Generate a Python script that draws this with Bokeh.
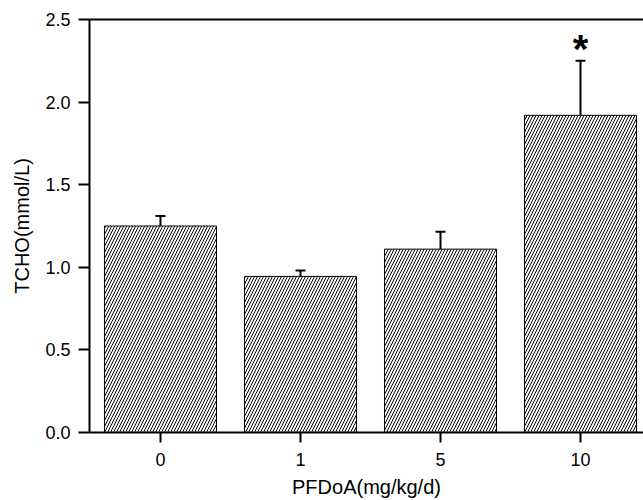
from bokeh.plotting import figure
from bokeh.models import (ColumnDataSource, Range1d, LinearAxis, FixedTicker,
                          Whisker, TeeHead)
from bokeh.core.properties import value
from bokeh.embed import file_html
from bokeh.resources import INLINE

# ---- data ----
doses = ["0", "1", "5", "10"]
means = [1.25, 0.945, 1.11, 1.92]
errors = [0.06, 0.035, 0.105, 0.33]
significant = ["", "", "", "*"]
y_ticks = [0.0, 0.5, 1.0, 1.5, 2.0, 2.5]

pos = list(range(len(doses)))
upper = [m + e for m, e in zip(means, errors)]
src = ColumnDataSource(dict(x=pos, top=means, upper=upper, sig=significant))

FONT = "Liberation Sans"

p = figure(width=643, height=500, output_backend="svg", toolbar_location=None,
           x_range=Range1d(-0.507, 3.45), y_range=Range1d(0, 2.5),
           min_border_left=89, min_border_right=0, min_border_top=19,
           min_border_bottom=68)
p.outline_line_color = None
p.grid.visible = False
p.background_fill_color = "white"

p.vbar(x="x", top="top", width=0.8, source=src, fill_color="white",
       line_color="black", line_width=1, hatch_pattern="/",
       hatch_color="black", hatch_weight=1, hatch_scale=6)

w = Whisker(base="x", lower="top", upper="upper", source=src,
            line_color="black", line_width=2, lower_head=None,
            upper_head=TeeHead(size=10, line_color="black", line_width=2))
p.add_layout(w)

p.text(x="x", y="upper", text="sig", source=src, text_align="center",
       text_baseline="alphabetic", y_offset=-12, text_font=value(FONT),
       text_font_size="40px", text_font_style="bold", text_color="black")

# axes styling
xa = p.xaxis[0]
xa.ticker = FixedTicker(ticks=pos)
xa.major_label_overrides = {i: d for i, d in zip(pos, doses)}
xa.axis_label = "PFDoA(mg/kg/d)"
ya = p.yaxis[0]
ya.ticker = FixedTicker(ticks=y_ticks)
ya.major_label_overrides = {t: f"{t:.1f}" for t in y_ticks}
ya.axis_label = "TCHO(mmol/L)"

for ax in (xa, ya):
    ax.axis_line_width = 2
    ax.major_tick_line_width = 2
    ax.minor_tick_line_color = None
    ax.major_tick_in = 0
    ax.major_label_text_font = FONT
    ax.major_label_text_font_size = "18px"
    ax.major_label_text_color = "black"
    ax.axis_label_text_font = FONT
    ax.axis_label_text_font_size = "20px"
    ax.axis_label_text_font_style = "normal"
    ax.axis_label_text_color = "black"

xa.major_tick_out = 10
xa.major_label_standoff = 10
xa.axis_label_standoff = 7
ya.major_tick_out = 11
ya.major_label_standoff = 8
ya.axis_label_standoff = 9

top = LinearAxis(ticker=FixedTicker(ticks=[]), axis_line_width=2,
                 major_tick_line_color=None, minor_tick_line_color=None)
p.add_layout(top, "above")

open("out.html", "w").write(file_html(p, INLINE))
